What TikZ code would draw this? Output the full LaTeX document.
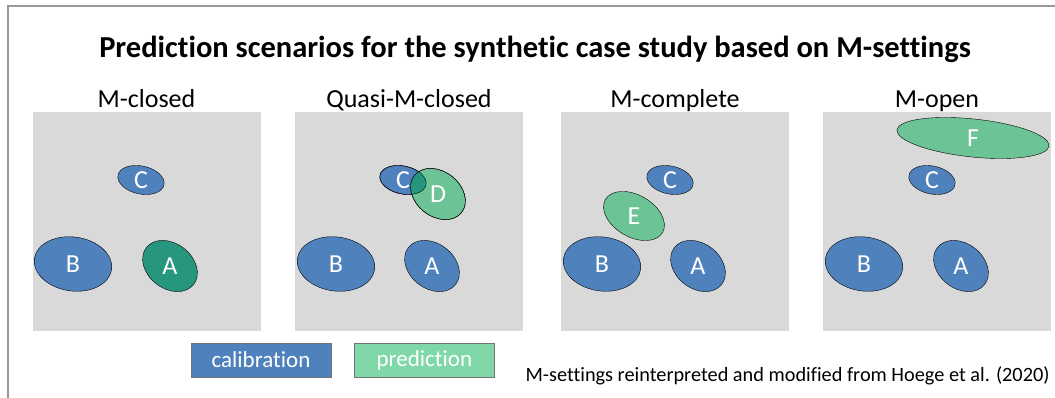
\documentclass[tikz,border=0pt]{standalone}
\usepackage{fontspec}
\setmainfont[Ligatures=NoCommon]{Carlito}
\usepackage{tikz}
\usetikzlibrary{shapes.geometric,positioning}
\definecolor{calblue}{HTML}{4F81BD}
\definecolor{predgreen}{HTML}{6CC395}
\definecolor{leggreen}{HTML}{80D8A8}
\definecolor{mixteal}{HTML}{26967E}
\definecolor{panelgray}{HTML}{D9D9D9}
\newcommand{\tilt}[2]{\rotatebox{#1}{#2}}

\begin{document}
\begin{tikzpicture}[
      x=1pt, y=-1pt,
      blob/.style={
        ellipse, draw=black, thin, inner sep=0pt, text=white,
        font=\fontsize{26}{26}\selectfont
      },
      calib/.style={blob, fill=calblue},
      pred/.style={blob, fill=predgreen},
      panel/.style={fill=panelgray, minimum width=228pt, minimum height=219pt, inner sep=0pt},
      head/.style={font=\fontsize{26}{30}\selectfont, anchor=base},
      legbox/.style={
        draw=black!55, minimum width=140pt, minimum height=34pt, inner sep=0pt,
        text=white, font=\fontsize{23}{23}\selectfont
      }
      ]

      \useasboundingbox (0,0) rectangle (1055,398);
      \draw[black!40, line width=1.2pt] (8,398) -- (8,6) -- (1055,6);

      \node[font=\bfseries\fontsize{30.5}{34}\selectfont] (title) at (535,49)
        {Prediction scenarios for the synthetic case study based on M-settings};

      % the four panels
      \node[panel] (pan1) at (146.5,221.5) {};
      \node[panel] (pan2) at (409,221.5) {};
      \node[panel] (pan3) at (675,221.5) {};
      \node[panel] (pan4) at (937,221.5) {};

      \node[head] (h1) at (146.5,108) {M-closed};
      \node[head] (h2) at (409,108) {Quasi-M-closed};
      \node[head] (h3) at (675,108) {M-complete};
      \node[head] (h4) at (937,108) {M-open};

      % M-closed
      \node[calib, rotate=-12, minimum width=47pt, minimum height=28pt] (p1c) at (141,180) {\tilt{12}{C}};
      \node[calib, rotate=-8, minimum width=78pt, minimum height=54pt]  (p1b) at (73,264) {\tilt{8}{B}};
      \node[blob, fill=mixteal, rotate=-38, minimum width=60pt, minimum height=45pt] (p1a) at (170,266) {\tilt{38}{A}};

      % Quasi-M-closed
      \node[calib, rotate=-12, minimum width=47pt, minimum height=28pt] (p2c) at (403,180) {\tilt{12}{C}};
      \node[pred, rotate=-38, minimum width=60pt, minimum height=45pt]  (p2d) at (438,194) {\tilt{38}{D}};
      \begin{scope}
        \clip[rotate around={-12:(p2c.center)}] (p2c.center) ellipse [x radius=23.5, y radius=14];
        \fill[mixteal, rotate around={-38:(p2d.center)}] (p2d.center) ellipse [x radius=30, y radius=22.5];
      \end{scope}
      \draw[thin, rotate around={-12:(p2c.center)}] (p2c.center) ellipse [x radius=23.5, y radius=14];
      \draw[thin, rotate around={-38:(p2d.center)}] (p2d.center) ellipse [x radius=30, y radius=22.5];
      \node[calib, rotate=-8, minimum width=78pt, minimum height=54pt]  (p2b) at (336,264) {\tilt{8}{B}};
      \node[calib, rotate=-38, minimum width=60pt, minimum height=45pt] (p2a) at (432,266) {\tilt{38}{A}};

      % M-complete
      \node[calib, rotate=-12, minimum width=47pt, minimum height=28pt] (p3c) at (670,180) {\tilt{12}{C}};
      \node[pred, rotate=-30, minimum width=66pt, minimum height=42pt]  (p3e) at (634,216) {\tilt{30}{E}};
      \node[calib, rotate=-8, minimum width=78pt, minimum height=54pt]  (p3b) at (602,264) {\tilt{8}{B}};
      \node[calib, rotate=-38, minimum width=60pt, minimum height=45pt] (p3a) at (698,266) {\tilt{38}{A}};

      % M-open
      \node[pred, rotate=-6, minimum width=153pt, minimum height=38pt]  (p4f) at (973,138) {\tilt{6}{F}};
      \node[calib, rotate=-12, minimum width=47pt, minimum height=28pt] (p4c) at (932,180) {\tilt{12}{C}};
      \node[calib, rotate=-8, minimum width=78pt, minimum height=54pt]  (p4b) at (864,264) {\tilt{8}{B}};
      \node[calib, rotate=-38, minimum width=60pt, minimum height=45pt] (p4a) at (961,266) {\tilt{38}{A}};

      % legend
      \node[legbox, fill=calblue] (lcal) at (261,360) {calibration};
      \node[legbox, fill=leggreen, right=23pt of lcal] (lpred) {prediction};
      \node[anchor=base west, font=\fontsize{20.3}{24}\selectfont] (note) at (522,381)
        {M-settings reinterpreted and modified from Hoege et al. (2020)};

\end{tikzpicture}
\end{document}
